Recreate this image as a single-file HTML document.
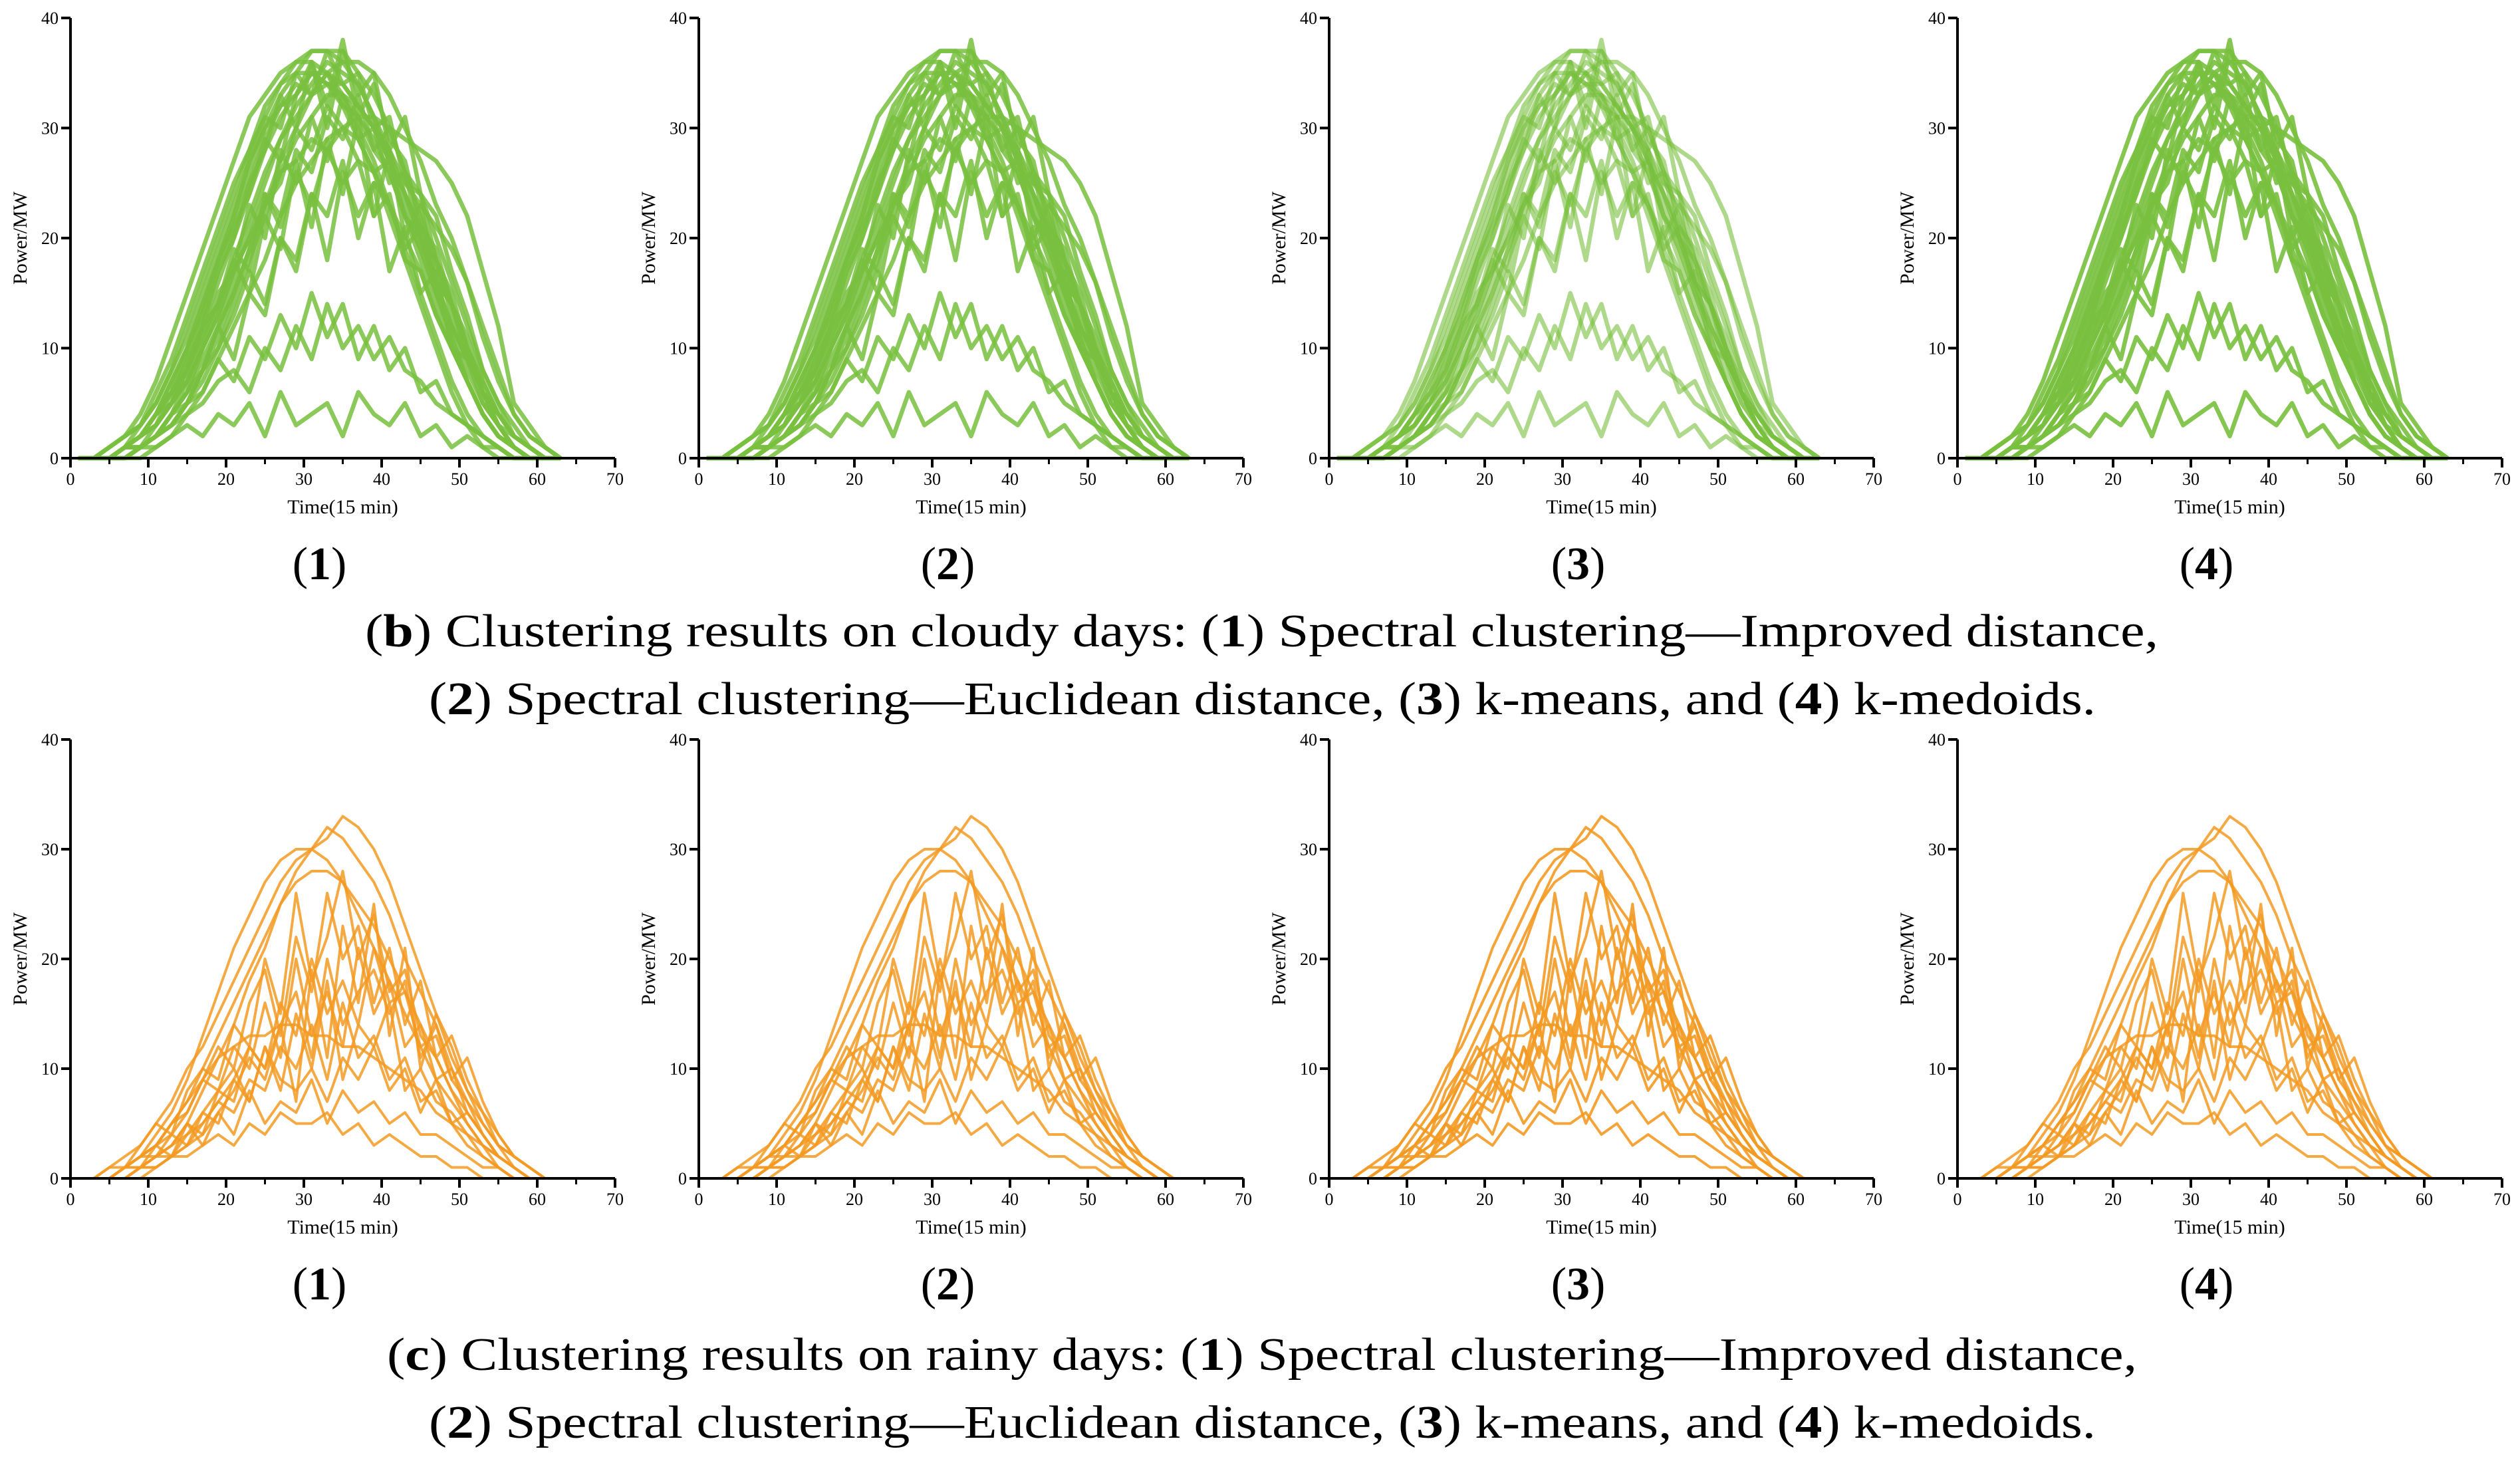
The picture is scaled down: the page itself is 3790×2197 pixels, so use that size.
<!DOCTYPE html>
<html><head><meta charset="utf-8">
<style>
html,body{margin:0;padding:0;background:#fff;}
svg{display:block;font-family:"Liberation Serif",serif;}
</style></head>
<body>
<svg id="fig" width="3790" height="2197" viewBox="0 0 3790 2197" xmlns="http://www.w3.org/2000/svg"></svg>
<script>
// time categories (15-min index)
const times = [1,3,5,7,9,11,13,15,17,19,21,23,25,27,29,31,33,35,37,39,41,43,45,47,49,51,53,55,57,59,61,63];
const xTicks = [0,10,20,30,40,50,60,70];
const yTicks = [0,10,20,30,40];
// cloudy-day power curves (MW)
const cloudySeries = [
[0,0,0,1,2,4,7,10,14,18,22,26,30,33,35,37,37,37,35,33,30,26,22,18,13,9,6,3,1,0,0,0],
[0,0,1,2,4,7,11,15,19,23,27,31,33,35,36,36,35,33,30,27,23,19,15,11,7,4,2,1,0,0,0,0],
[0,0,0,1,2,3,5,9,12,17,20,25,28,33,30,36,32,38,31,34,29,27,21,19,14,10,7,4,2,1,0,0],
[0,0,0,1,2,3,5,7,10,13,17,20,23,26,27,29,28,30,27,26,23,20,17,13,10,7,4,2,1,0,0,0],
[0,0,0,0,1,2,4,6,9,12,16,21,25,29,32,34,36,35,34,31,28,24,20,16,12,8,5,3,1,0,0,0],
[0,0,0,0,1,2,3,5,8,11,15,19,23,27,30,33,35,36,36,35,33,30,27,23,20,16,12,8,4,2,1,0],
[0,0,0,1,1,2,4,6,8,12,9,15,13,20,17,24,18,26,22,25,17,21,15,17,10,9,6,4,2,1,0,0],
[0,0,1,2,3,5,8,11,15,19,23,27,30,32,34,33,35,32,31,28,26,22,19,15,11,7,4,2,1,0,0,0],
[0,0,0,0,1,1,2,3,2,4,3,5,2,6,3,4,5,2,6,4,3,5,2,3,1,2,1,1,0,0,0,0],
[0,0,0,1,2,4,5,8,11,14,18,15,22,19,27,21,29,24,31,22,28,20,23,16,14,9,6,3,1,0,0,0],
[0,0,0,0,1,3,5,8,12,16,20,24,28,31,33,35,35,34,32,30,27,24,21,17,14,10,6,3,2,1,0,0],
[0,0,0,1,2,4,6,9,13,17,21,24,29,27,33,36,30,37,33,35,28,31,24,22,17,13,8,5,2,1,0,0],
[0,0,0,0,0,1,2,4,6,9,12,15,18,22,25,27,29,30,31,31,30,29,28,27,25,22,17,12,5,3,1,0],
[0,0,0,1,1,2,4,5,8,10,13,17,14,20,18,24,22,27,20,25,23,19,21,15,12,9,5,3,1,0,0,0],
[0,0,0,0,1,2,3,4,5,7,8,6,10,8,12,9,14,10,12,9,11,8,7,5,4,3,2,1,0,0,0,0],
[0,0,0,1,3,5,8,12,16,20,24,28,31,34,36,37,37,36,34,31,27,23,19,15,11,7,4,2,1,0,0,0],
[0,0,0,0,1,2,4,7,10,14,18,22,26,29,31,33,34,33,31,29,26,22,18,14,10,7,4,2,1,0,0,0],
[0,0,0,1,2,3,5,7,11,15,17,23,20,28,25,31,27,33,29,30,25,26,20,18,14,11,7,4,2,1,0,0],
[0,0,0,1,2,4,6,10,13,18,22,27,31,30,35,33,37,34,35,30,31,25,24,18,15,10,6,3,1,0,0,0],
[0,0,1,2,3,6,9,13,17,21,25,28,32,34,35,35,34,32,29,26,22,18,14,10,6,3,1,0,0,0,0,0],
[0,0,0,0,1,2,3,5,7,10,14,18,22,26,29,31,33,33,32,30,27,24,20,16,12,9,6,4,2,1,0,0],
[0,0,0,1,2,3,6,8,12,14,19,17,24,21,26,23,28,25,27,22,24,18,17,13,10,7,4,2,1,0,0,0],
[0,0,0,1,1,2,3,5,6,9,7,11,9,13,10,15,11,14,9,12,8,10,6,7,4,3,2,1,0,0,0,0],
[0,0,0,0,1,2,4,6,10,13,17,20,24,22,28,26,31,29,33,28,30,26,24,20,16,12,8,5,3,1,0,0],
[0,0,0,1,2,4,7,10,14,18,21,25,29,32,33,35,34,34,32,30,28,25,23,21,19,16,11,7,4,2,1,0],
[0,0,0,0,1,2,3,5,8,12,15,19,23,25,30,28,32,30,29,26,27,22,20,16,14,10,6,3,1,0,0,0]
];
// rainy-day power curves (MW)
const rainySeries = [
[0,0,0,1,1,2,3,5,4,8,7,12,10,16,13,20,15,18,14,21,16,17,12,13,9,7,5,3,2,1,0,0],
[0,0,1,2,3,5,7,10,12,15,18,21,24,27,29,30,32,31,29,27,24,20,17,14,10,7,4,2,1,0,0,0],
[0,0,0,1,2,3,2,5,3,6,4,8,5,7,6,9,5,8,6,7,5,6,4,4,3,2,1,1,0,0,0,0],
[0,0,0,1,3,5,4,8,10,9,14,12,20,15,26,18,22,28,20,24,17,19,13,11,8,6,4,2,1,0,0,0],
[0,0,0,0,1,2,3,5,8,11,14,18,21,25,28,30,31,33,32,30,27,23,19,15,11,8,5,3,1,0,0,0],
[0,0,0,1,2,3,5,7,9,11,12,13,13,14,14,13,13,12,12,11,10,9,8,6,5,3,2,1,0,0,0,0],
[0,0,1,1,2,2,4,3,6,5,9,7,12,8,15,10,18,9,14,12,16,8,10,7,6,4,3,2,1,0,0,0],
[0,0,0,0,1,1,2,3,4,6,8,11,9,14,7,19,11,23,16,25,13,21,10,15,12,8,6,3,2,1,0,0],
[0,0,0,1,2,4,6,9,13,17,21,24,27,29,30,30,29,27,24,21,18,15,12,9,7,5,3,2,1,0,0,0],
[0,0,0,0,1,1,2,2,3,4,3,5,4,6,5,5,6,4,5,3,4,3,2,2,1,1,0,0,0,0,0,0],
[0,0,0,1,1,3,4,6,9,12,10,16,19,13,22,17,26,20,23,16,21,14,18,11,13,9,6,4,2,1,0,0],
[0,0,0,0,0,1,2,3,5,7,9,12,10,14,17,11,20,14,17,19,15,18,11,14,9,11,7,4,2,1,0,0],
[0,0,0,1,2,3,5,7,10,13,16,19,22,25,27,28,28,27,25,23,20,17,14,11,8,5,3,1,0,0,0,0],
[0,0,0,0,1,2,3,4,6,8,10,7,12,9,8,10,7,11,9,12,8,10,6,9,5,6,4,2,1,0,0,0],
[0,0,0,1,2,3,5,6,9,8,12,10,16,11,20,13,17,12,21,15,18,12,14,9,10,6,4,2,1,0,0,0],
[0,0,0,0,1,2,2,4,5,7,6,9,8,12,10,14,9,16,11,13,9,11,7,8,5,4,2,1,0,0,0,0]
];

const NS = "http://www.w3.org/2000/svg";
const svg = document.getElementById('fig');
function mk(tag, attrs, parent){ const e=document.createElementNS(NS,tag); for(const k in attrs) e.setAttribute(k,attrs[k]); (parent||svg).appendChild(e); return e; }

const panelX = [106, 1051, 1999, 2944];
const PW = 819;
const rows = [
  {top:27, bottom:689, series:cloudySeries, color:'#78c03e', ops:[0.85,0.85,0.6,0.9], sw:6.5, kind:'cloudy'},
  {top:1112, bottom:1772, series:rainySeries, color:'#f39a22', ops:[0.85,0.85,0.9,0.85], sw:4, kind:'rainy'}
];

rows.forEach((row, ri)=>{
  panelX.forEach((x0, pi)=>{
    const g = mk('g', {});
    
    
    const sx = t => x0 + t/70*PW;
    const sy = v => row.bottom - v/40*(row.bottom-row.top);
    const lg = mk('g', {}, g);
    
    
    row.series.forEach((s, si)=>{
      const d = s.map((v,i)=>(i?'L':'M')+sx(times[i]).toFixed(1)+' '+sy(v).toFixed(1)).join(' ');
      const p = mk('path', {d:d, fill:'none', stroke:row.color, 'stroke-width':row.sw, 'stroke-opacity':row.ops[pi], 'stroke-linejoin':'round'}, lg);
      
      
    });
    const ya = mk('line', {x1:x0, y1:row.top, x2:x0, y2:row.bottom, stroke:'#000','stroke-width':4}, g);
    
    
    const xa = mk('line', {x1:x0, y1:row.bottom, x2:x0+PW, y2:row.bottom, stroke:'#000','stroke-width':4}, g);
    
    
    yTicks.forEach(v=>{
      mk('line',{x1:x0-14,y1:sy(v),x2:x0,y2:sy(v),stroke:'#000','stroke-width':4},g);
      const t = mk('text',{x:x0-18,y:sy(v)+9,'text-anchor':'end','font-size':26},g);
      t.textContent = v;
      
      
    });
    xTicks.forEach(v=>{
      mk('line',{x1:sx(v),y1:row.bottom,x2:sx(v),y2:row.bottom+14,stroke:'#000','stroke-width':4},g);
      if(v<70) mk('line',{x1:sx(v+5),y1:row.bottom,x2:sx(v+5),y2:row.bottom+9,stroke:'#000','stroke-width':3},g);
      const t = mk('text',{x:sx(v),y:row.bottom+40,'text-anchor':'middle','font-size':26},g);
      t.textContent = v;
      
      
    });
    const xt = mk('text',{x:x0+PW/2,y:row.bottom+83,'text-anchor':'middle','font-size':30},g);
    xt.textContent = 'Time(15 min)';
    
    
    const cy = (row.top+row.bottom)/2;
    const yt = mk('text',{x:0,y:0,'text-anchor':'middle','font-size':30,transform:'translate('+(x0-66)+','+cy+') rotate(-90)'},g);
    yt.textContent = 'Power/MW';
    
    
    const pl = mk('text',{x:x0+PW/2-35,y:row.bottom+182,'text-anchor':'middle','font-size':70},g);
    pl.innerHTML = '(<tspan font-weight="bold">'+(pi+1)+'</tspan>)';
    
    
  });
});

const caps = [
  {y:972, x1:549, w1:2697, l:'b', t1:' Clustering results on cloudy days: (', y2:1074},
  {y:2060, x1:582, w1:2632, l:'c', t1:' Clustering results on rainy days: (', y2:2162}
];
caps.forEach((c,i)=>{
  const a = mk('text',{x:c.x1,y:c.y,'font-size':70,textLength:c.w1,lengthAdjust:'spacingAndGlyphs'});
  a.innerHTML = '(<tspan font-weight="bold">'+c.l+'</tspan>)'+c.t1+'<tspan font-weight="bold">1</tspan>) Spectral clustering\u2014Improved distance,';
  
  
  const b = mk('text',{x:645,y:c.y2,'font-size':70,textLength:2507,lengthAdjust:'spacingAndGlyphs'});
  b.innerHTML = '(<tspan font-weight="bold">2</tspan>) Spectral clustering\u2014Euclidean distance, (<tspan font-weight="bold">3</tspan>) k-means, and (<tspan font-weight="bold">4</tspan>) k-medoids.';
  
  
});
</script>
</body></html>
